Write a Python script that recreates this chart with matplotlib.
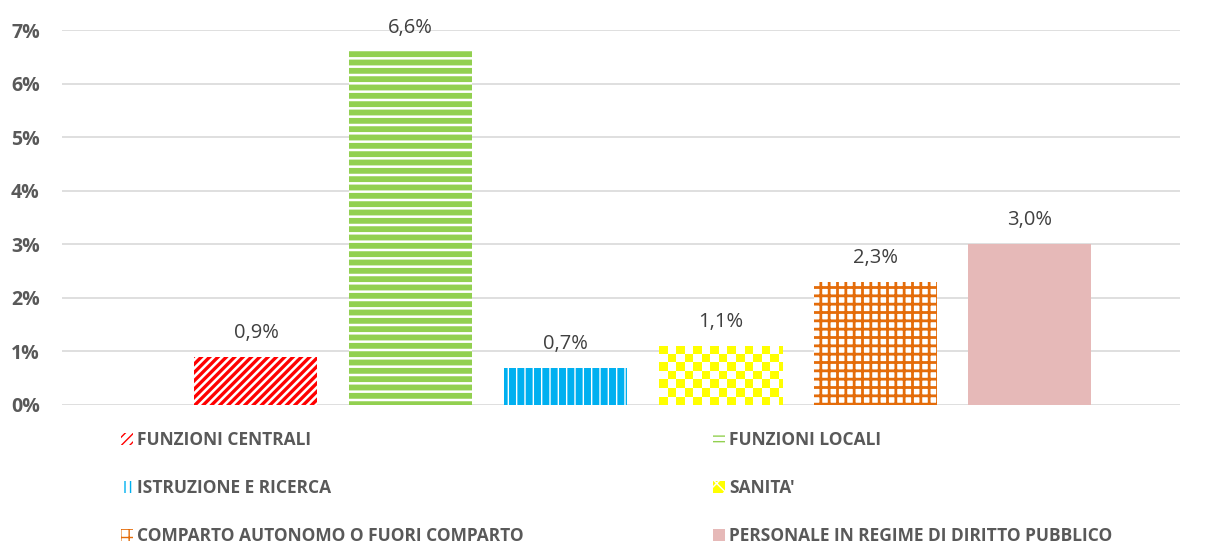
import numpy as np
import matplotlib
matplotlib.use("Agg")
import matplotlib.pyplot as plt
from matplotlib.patches import Patch

# comparti e variazioni percentuali
categories = ["FUNZIONI CENTRALI", "FUNZIONI LOCALI", "ISTRUZIONE E RICERCA",
              "SANITA'", "COMPARTO AUTONOMO O FUORI COMPARTO",
              "PERSONALE IN REGIME DI DIRITTO PUBBLICO"]
values = [0.9, 6.6, 0.7, 1.1, 2.3, 3.0]
yticks = [0, 1, 2, 3, 4, 5, 6, 7]

colors = ["#FF0000", "#92D050", "#00B0F0", "#FFFF00", "#E46C0A", "#E6B9B8"]
hatches = ["////", "--", "||", None, "++", None]
hatch_lw = [2.4, 4.2, 5.0, 1.0, 2.0, 1.0]
# motivi piu' fitti per i quadratini della legenda
leg_hatches = ["////", "---", "|||", "xx", "++", None]
leg_lw = [2.4, 3.0, 3.6, 1.5, 2.0, 1.0]

plt.rcParams["font.family"] = ["Open Sans", "DejaVu Sans"]
grey = "#595959"

fig = plt.figure(figsize=(12.08, 5.43), dpi=100)
ax = fig.add_axes([62 / 1208, 138 / 543, 1118 / 1208, 375 / 543])

x = np.arange(len(values))
width = 0.795
bars = []
for i, v in enumerate(values):
    if hatches[i]:
        with plt.rc_context({"hatch.linewidth": hatch_lw[i]}):
            b = ax.bar(x[i], v, width, facecolor="white", edgecolor=colors[i],
                       hatch=hatches[i], linewidth=0, zorder=3)[0]
        if hasattr(b, "set_hatch_linewidth"):
            b.set_hatch_linewidth(hatch_lw[i])
    elif i == 3:
        b = ax.bar(x[i], v, width, facecolor="white", linewidth=0, zorder=3)[0]
    else:
        b = ax.bar(x[i], v, width, color=colors[i], linewidth=0, zorder=3)[0]
    bars.append(b)
    ax.annotate(f"{v:.1f}".replace(".", ",") + "%", (x[i], v),
                xytext=(0, 10), textcoords="offset points",
                ha="center", va="bottom", fontsize=14.5, color="#404040")

ax.set_xlim(-1.253, 5.97)
ax.set_ylim(0, 7)
ax.set_yticks(yticks)
ax.set_yticklabels([f"{t}%" for t in yticks], fontweight="bold",
                   fontsize=14, color=grey)
ax.set_xticks([])
ax.tick_params(axis="y", length=0, pad=16)
ax.grid(axis="y", color="#D9D9D9", linewidth=1.2, zorder=0)
for s in ax.spines.values():
    s.set_visible(False)

# checkerboard for SANITA'
b = bars[3]
sq = 8.5
p0 = ax.transData.transform((b.get_x(), 0))
p1 = ax.transData.transform((b.get_x() + b.get_width(), b.get_height()))
nx = int(np.ceil((p1[0] - p0[0]) / sq))
ny = int(np.ceil((p1[1] - p0[1]) / sq))
iy, ix = np.indices((ny, nx))
checker = ((ix + iy) % 2 == 0).astype(float)
cmap = matplotlib.colors.ListedColormap(["white", colors[3]])
x1 = b.get_x() + nx * sq * (b.get_width() / (p1[0] - p0[0]))
y1 = ny * sq * (b.get_height() / (p1[1] - p0[1]))
im = ax.imshow(checker, cmap=cmap, extent=(b.get_x(), x1, 0, y1),
               origin="lower", aspect="auto", interpolation="nearest", zorder=3)
im.set_clip_path(b)
ax.set_xlim(-1.253, 5.97)
ax.set_ylim(0, 7)

handles = []
for i in range(len(values)):
    if i == 3:
        fc, ec = colors[3], "white"
    elif leg_hatches[i]:
        fc, ec = "white", colors[i]
    else:
        fc, ec = colors[i], colors[i]
    with plt.rc_context({"hatch.linewidth": leg_lw[i]}):
        h = Patch(facecolor=fc, edgecolor=ec, hatch=leg_hatches[i], linewidth=0)
    if hasattr(h, "set_hatch_linewidth"):
        h.set_hatch_linewidth(leg_lw[i])
    handles.append(h)

order = [0, 2, 4, 1, 3, 5]
leg = fig.legend([handles[i] for i in order], [categories[i] for i in order],
                 ncol=2, loc="upper left", bbox_to_anchor=(121 / 1208, 1 - 431 / 543),
                 frameon=False, borderpad=0, borderaxespad=0,
                 handlelength=0.7, handleheight=0.7,
                 handletextpad=0.23, labelspacing=1.73, columnspacing=10.9,
                 prop={"weight": "bold", "size": 12.5}, labelcolor=grey)

fig.savefig("out.png", dpi=100)
